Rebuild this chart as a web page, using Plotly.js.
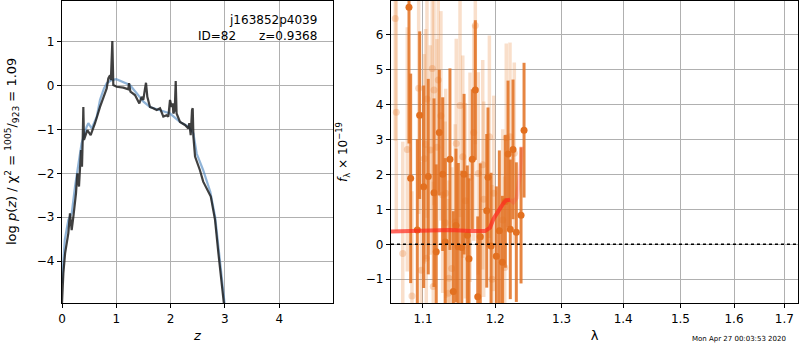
<!DOCTYPE html>
<html>
<head>
<meta charset="utf-8">
<script src="https://cdn.plot.ly/plotly-3.0.1.min.js"></script>
<style>html,body{margin:0;padding:0;background:#fff;}#chart{width:800px;height:350px;}</style>
</head>
<body>
<div id="chart"></div>
<script>
// ---- Left panel: log p(z) ----
const zDark = [0.0, 0.025, 0.057, 0.117, 0.147, 0.178, 0.209, 0.258, 0.282, 0.313, 0.35, 0.368, 0.381, 0.393, 0.405, 0.466, 0.528, 0.608, 0.70, 0.761, 0.823, 0.853, 0.884, 0.90, 0.927, 0.945, 1.007, 1.13, 1.22, 1.234, 1.26, 1.344, 1.424, 1.467, 1.497, 1.529, 1.547, 1.571, 1.62, 1.68, 1.744, 1.805, 1.866, 1.928, 1.958, 1.989, 2.02, 2.04, 2.05, 2.076, 2.094, 2.11, 2.173, 2.265, 2.326, 2.344, 2.37, 2.394, 2.407, 2.42, 2.45, 2.54, 2.60, 2.74, 2.818, 2.88, 2.94, 2.98, 3.05];
const pDark = [-4.95, -4.27, -3.82, -3.36, -2.91, -3.29, -2.99, -2.45, -2.0, -2.30, -1.47, -1.85, -1.24, -0.49, -1.24, -1.02, -1.13, -0.86, -0.49, -0.30, -0.07, 0.16, 0.23, 0.12, 1.01, 0.01, -0.03, -0.05, -0.09, 0.05, -0.14, -0.22, -0.41, -0.26, -0.33, -0.07, 0.06, -0.26, -0.49, -0.52, -0.56, -0.52, -0.71, -0.68, -0.71, -0.33, -0.49, -0.41, -0.64, -0.56, 0.10, -0.64, -0.83, -0.90, -0.98, -0.86, -1.13, -0.56, -0.52, -1.17, -1.62, -1.93, -2.19, -2.53, -3.06, -3.82, -4.58, -4.95, -5.6];
const zBlue = [0.0, 0.05, 0.117, 0.18, 0.24, 0.30, 0.36, 0.455, 0.485, 0.547, 0.64, 0.70, 0.773, 0.823, 0.914, 1.0, 1.13, 1.25, 1.375, 1.50, 1.62, 1.805, 1.99, 2.17, 2.33, 2.42, 2.48, 2.60, 2.73, 2.82, 2.91, 2.98, 3.05];
const pBlue = [-4.5, -3.52, -3.06, -2.9, -2.30, -1.85, -1.32, -0.94, -0.86, -0.98, -0.71, -0.33, -0.07, 0.05, 0.12, 0.14, 0.08, 0.01, -0.18, -0.37, -0.49, -0.56, -0.64, -0.83, -0.94, -1.09, -1.55, -1.93, -2.42, -2.99, -4.12, -4.95, -5.6];

const zTicks = [0, 1, 2, 3, 4];
const pTicks = [-4, -3, -2, -1, 0, 1];

// ---- Right panel: spectrum ----
const lamFaint = [1.0639, 1.0652, 1.0735, 1.0794, 1.0855, 1.0943, 1.0977, 1.1016, 1.1035, 1.1053, 1.1044, 1.1097, 1.1124, 1.1147, 1.1137, 1.1187, 1.1204, 1.1240, 1.1264, 1.1299, 1.1305, 1.1340, 1.1349, 1.1387, 1.1436, 1.1450, 1.1502, 1.1540, 1.1576, 1.1641, 1.1693, 1.1716, 1.1758, 1.1821, 1.1835, 1.1916, 1.1954, 1.1979, 1.2109, 1.2138, 1.2161, 1.2216, 1.2279];
const fluxFaint = [6.47, 3.78, -0.26, 2.72, -1.48, 4.47, -0.74, 2.45, 2.87, 4.16, -0.40, 2.70, 5.04, 4.42, -1.21, 2.78, 4.71, 3.68, 1.41, 0.62, 1.46, -1.40, -0.97, -0.69, 0.64, 2.89, 3.98, 2.51, 1.25, 1.92, 3.20, 6.27, 2.03, 2.28, 1.29, 3.08, -1.00, 1.46, 0.70, -0.66, 3.05, 3.08, 2.61];
const errFaint = [3.5, 3.4, 3.2, 3.5, 3.0, 3.6, 3.1, 3.0, 3.3, 3.4, 3.2, 3.0, 3.5, 3.3, 3.0, 3.1, 3.2, 3.0, 2.8, 2.9, 3.0, 2.7, 2.8, 2.9, 2.8, 3.0, 3.2, 2.9, 2.8, 3.0, 3.1, 3.4, 2.9, 3.0, 2.8, 2.9, 2.7, 2.8, 2.6, 2.6, 2.7, 2.7, 2.6];

const lamData = [1.0816, 1.0838, 1.0925, 1.0956, 1.1009, 1.1070, 1.1147, 1.1177, 1.1218, 1.1264, 1.1299, 1.1363, 1.1409, 1.1446, 1.1478, 1.1526, 1.1558, 1.1603, 1.1627, 1.1673, 1.1716, 1.1750, 1.1786, 1.1878, 1.1896, 1.1940, 1.2016, 1.2060, 1.2104, 1.2147, 1.2187, 1.2220, 1.2260, 1.2309, 1.2379, 1.2424];
const fluxData = [6.79, 1.89, 0.41, 3.70, 1.65, 1.94, 1.48, -0.21, 3.20, 2.01, 0.07, 2.44, -1.35, 0.54, -0.07, -0.09, 2.01, 0.26, -0.41, 2.44, 4.42, -1.50, 0.22, 0.96, 1.92, -0.05, -0.34, 0.39, -0.51, 1.23, 2.59, 0.43, 2.72, 0.35, 0.83, 3.27];
const errData = [3.9, 3.0, 2.6, 2.4, 2.9, 2.8, 2.7, 2.5, 1.8, 2.2, 2.4, 2.6, 2.3, 2.2, 2.4, 2.2, 2.3, 2.0, 2.3, 2.0, 2.0, 2.3, 2.1, 2.2, 2.0, 2.1, 2.0, 2.3, 1.9, 1.9, 2.1, 2.0, 2.0, 2.0, 1.95, 1.93];

// model: main part and faded red tail at the band edge
const lamModel = [1.0584, 1.0960, 1.1227, 1.1363, 1.1641, 1.1853, 1.1925, 1.1973, 1.2023, 1.2070, 1.2119, 1.2158, 1.2216];
const fluxModel = [0.37, 0.38, 0.40, 0.41, 0.38, 0.38, 0.48, 0.72, 0.88, 1.04, 1.18, 1.26, 1.28];
const lamModelTail = [1.2216, 1.2265, 1.2314, 1.2364, 1.2388];
const fluxModelTail = [1.28, 1.20, 1.33, 2.0, 2.8];

const lamTicks = [1.1, 1.2, 1.3, 1.4, 1.5, 1.6, 1.7];
const fluxTicks = [-1, 0, 1, 2, 3, 4, 5, 6];

const FONT = 'DejaVu Sans, sans-serif';
const ORANGE = 'rgb(226,112,32)';

const traces = [
  {x: zBlue, y: pBlue, xaxis: 'x', yaxis: 'y', mode: 'lines', line: {color: 'rgba(70,130,190,0.6)', width: 2.2}, hoverinfo: 'skip'},
  {x: zDark, y: pDark, xaxis: 'x', yaxis: 'y', mode: 'lines', line: {color: 'rgba(30,30,30,0.85)', width: 2.2}, hoverinfo: 'skip'},
  {x: lamFaint, y: fluxFaint, xaxis: 'x2', yaxis: 'y2', mode: 'markers',
   marker: {color: 'rgba(230,120,40,0.28)', size: 7},
   error_y: {type: 'data', array: errFaint, visible: true, color: 'rgba(235,140,70,0.28)', thickness: 3.5, width: 0}},
  {x: lamData, y: fluxData, xaxis: 'x2', yaxis: 'y2', mode: 'markers',
   marker: {color: ORANGE, size: 7},
   error_y: {type: 'data', array: errData, visible: true, color: 'rgba(226,112,32,0.85)', thickness: 3, width: 0}},
  {x: lamModel, y: fluxModel, xaxis: 'x2', yaxis: 'y2', mode: 'lines', line: {color: 'rgba(255,40,30,0.7)', width: 4}},
  {x: lamModelTail, y: fluxModelTail, xaxis: 'x2', yaxis: 'y2', mode: 'lines', line: {color: 'rgba(255,60,60,0.25)', width: 4}}
];

const axBase = {
  showgrid: true, gridcolor: '#b0b0b0', gridwidth: 1,
  showline: true, linecolor: '#000', linewidth: 1.2, mirror: true,
  ticks: 'outside', ticklen: 4, tickwidth: 1, tickcolor: '#000',
  zeroline: false, tickfont: {family: FONT, size: 12, color: '#000'}
};

const layout = {
  width: 800, height: 350,
  margin: {l: 62, r: 2, t: 1, b: 47},
  paper_bgcolor: '#fff', plot_bgcolor: '#fff',
  showlegend: false,
  font: {family: FONT, size: 12, color: '#000'},
  xaxis: Object.assign({}, axBase, {domain: [0, 0.3682], range: [0, 4.99], tickmode: 'array', tickvals: zTicks, anchor: 'y',
    title: {text: '<i>z</i>', font: {family: FONT, size: 13}, standoff: 6}}),
  yaxis: Object.assign({}, axBase, {range: [-4.95, 1.92], tickmode: 'array', tickvals: pTicks, anchor: 'x', tickformat: 'd'}),
  xaxis2: Object.assign({}, axBase, {domain: [0.447, 1], type: 'log', range: [0.02465, 0.2376], tickmode: 'array', tickvals: lamTicks,
    ticktext: lamTicks.map(v => v.toFixed(1)), anchor: 'y2',
    title: {text: 'λ', font: {family: FONT, size: 13}, standoff: 6}}),
  yaxis2: Object.assign({}, axBase, {range: [-1.68, 6.97], tickmode: 'array', tickvals: fluxTicks, anchor: 'x2'}),
  shapes: [
    {type: 'line', xref: 'x2 domain', yref: 'y2', x0: 0, x1: 1, y0: 0, y1: 0, line: {color: '#000', width: 1.5, dash: 'dot'}, layer: 'above'}
  ],
  annotations: [
    {xref: 'paper', yref: 'paper', x: 0.3682, y: 1, xshift: -14, yshift: -10, xanchor: 'right', yanchor: 'top', align: 'right', showarrow: false,
     text: 'j163852p4039<br>ID=82\u00a0\u00a0\u00a0\u00a0\u00a0 z=0.9368', font: {family: FONT, size: 12}},
    {xref: 'paper', yref: 'paper', x: 0, xshift: -50, y: 0.5, xanchor: 'center', yanchor: 'middle', textangle: -90, showarrow: false,
     text: 'log <i>p</i>(<i>z</i>) / χ<sup>2</sup> = <sup>1005</sup>/<sub>923</sub> = 1.09', font: {family: FONT, size: 13}},
    {xref: 'paper', yref: 'paper', x: 0.447, xshift: -48, y: 0.5, xanchor: 'center', yanchor: 'middle', textangle: -90, showarrow: false,
     text: '<i>f</i><sub>λ</sub> × 10<sup>−19</sup>', font: {family: FONT, size: 12}},
    {xref: 'paper', yref: 'paper', x: 1, xshift: -10, y: 0, yshift: -36, xanchor: 'right', yanchor: 'middle', showarrow: false,
     text: 'Mon Apr 27 00:03:53 2020', font: {family: FONT, size: 7}}
  ]
};

Plotly.newPlot('chart', traces, layout, {staticPlot: true, displayModeBar: false});
</script>
</body>
</html>
